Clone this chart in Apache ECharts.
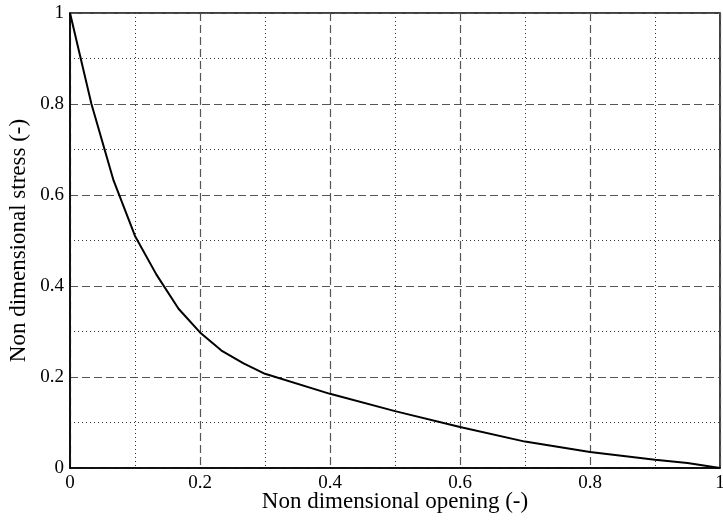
<!DOCTYPE html>
<html>
<head>
<meta charset="utf-8">
<script src="https://cdn.jsdelivr.net/npm/echarts@6/dist/echarts.min.js"></script>
<style>
  html, body { margin: 0; padding: 0; background: #fff; }
  #chart { width: 723px; height: 525px; }
</style>
</head>
<body>
<div id="chart"></div>
<script>
// opening (x) and stress (y)
const opening = [0, 0.033, 0.067, 0.1, 0.133, 0.167, 0.2, 0.233, 0.267, 0.3, 0.4, 0.5, 0.6, 0.7, 0.8, 0.9, 0.95, 1.0];
const stress = [1, 0.8, 0.632, 0.51, 0.425, 0.35, 0.298, 0.258, 0.23, 0.207, 0.163, 0.125, 0.09, 0.058, 0.035, 0.018, 0.011, 0];

const font = "Liberation Serif";

const chart = echarts.init(document.getElementById("chart"));

function axis(name, gap) {
  return {
    type: "value",
    min: 0,
    max: 1,
    interval: 0.2,
    name: name,
    nameLocation: "middle",
    nameGap: gap,
    nameMoveOverlap: false,
    nameTextStyle: { fontFamily: font, fontSize: 23, color: "#000" },
    axisLine: { show: true, lineStyle: { color: "#000", width: 1.5 } },
    axisTick: { show: false },
    axisLabel: {
      fontFamily: font,
      fontSize: 19,
      color: "#000",
      margin: 6,
      formatter: (v) => String(+v.toFixed(1)),
    },
    splitLine: { show: true, lineStyle: { color: "#555", type: [8, 4], width: 1.2 } },
    minorTick: { show: false, splitNumber: 2 },
    minorSplitLine: { show: true, lineStyle: { color: "#333", type: [1, 3], width: 1 } },
  };
}

chart.setOption({
  backgroundColor: "#fff",
  animation: false,
  grid: {
    left: 70,
    right: 3,
    top: 13,
    bottom: 57,
    outerBoundsMode: "none",
    show: true,
    borderColor: "#000",
    borderWidth: 1.5,
  },
  xAxis: axis("Non dimensional opening (-)", 22),
  yAxis: axis("Non dimensional stress (-)", 40),
  series: [
    {
      type: "line",
      data: opening.map((x, i) => [x, stress[i]]),
      showSymbol: false,
      lineStyle: { color: "#000", width: 2 },
      z: 5,
    },
  ],
});
</script>
</body>
</html>
